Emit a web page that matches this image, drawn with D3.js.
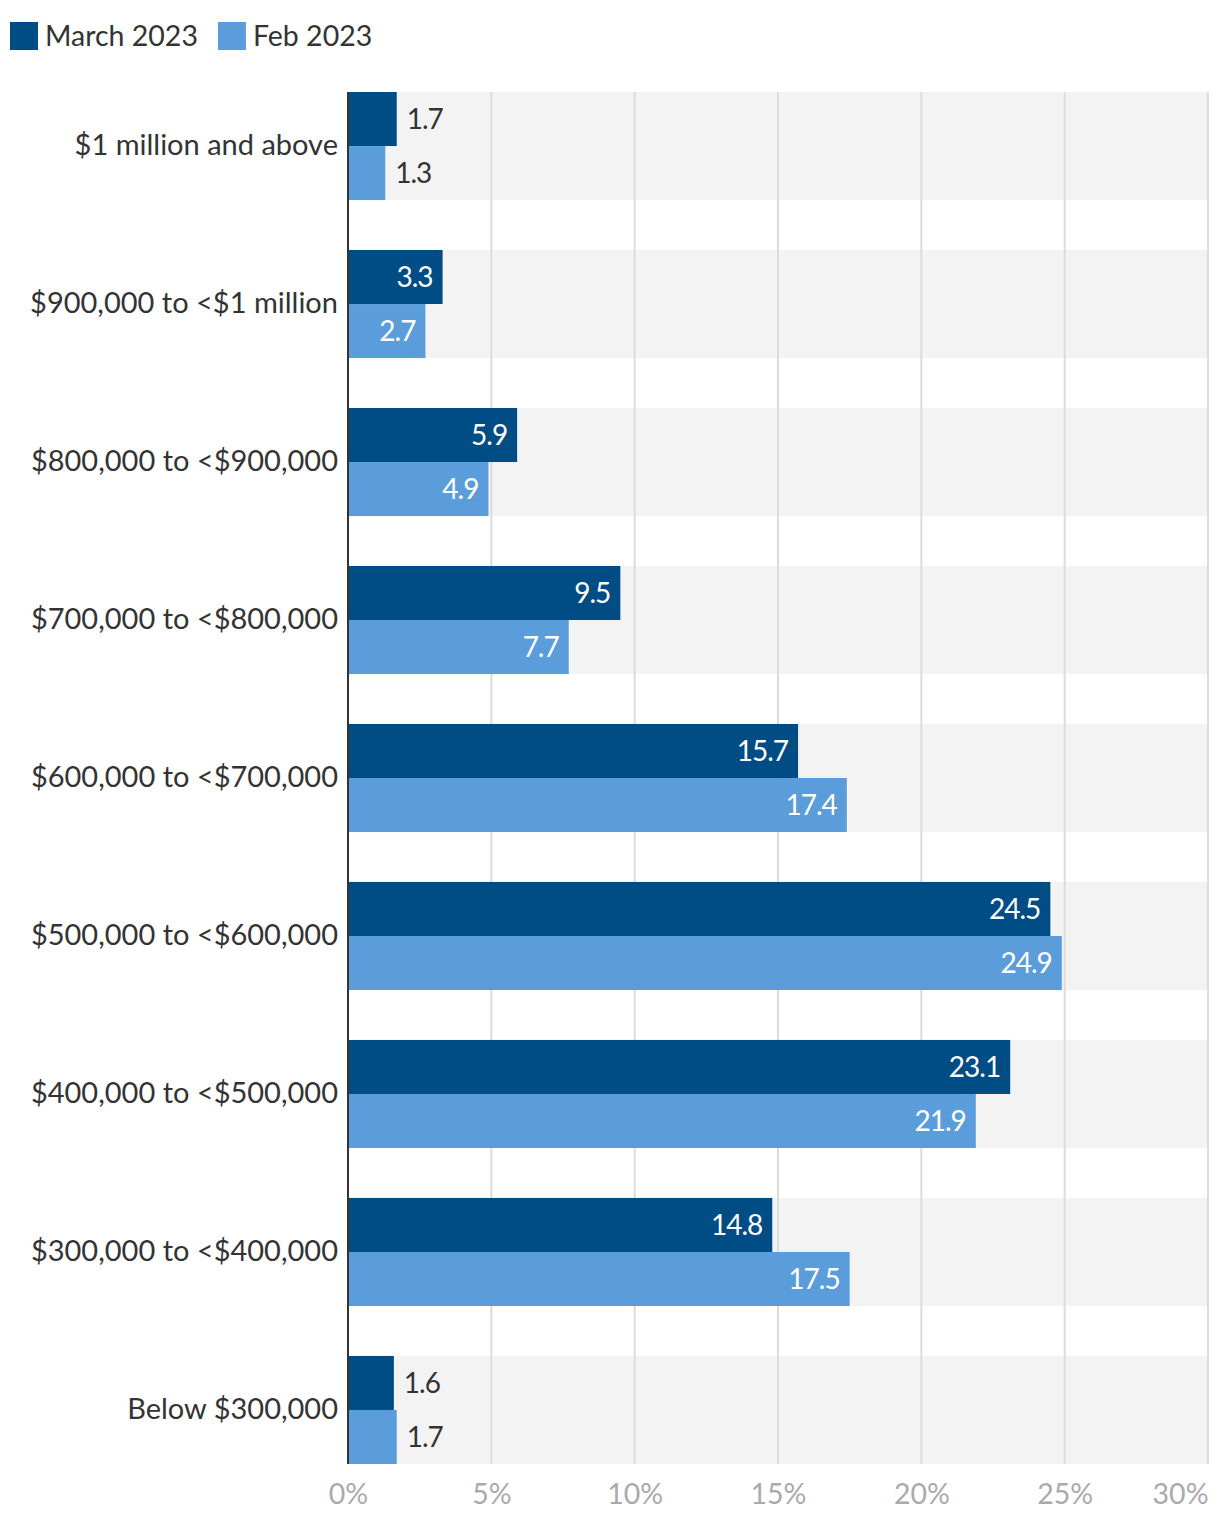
<!DOCTYPE html>
<html>
<head>
<meta charset="utf-8">
<script src="https://cdn.jsdelivr.net/npm/d3@7"></script>
<style>
  body { margin: 0; background: #fff; }
  svg text { font-family: Lato, "Open Sans", sans-serif; }
</style>
</head>
<body>
<div id="chart"></div>
<script>
const categories = [
  "$1 million and above",
  "$900,000 to <$1 million",
  "$800,000 to <$900,000",
  "$700,000 to <$800,000",
  "$600,000 to <$700,000",
  "$500,000 to <$600,000",
  "$400,000 to <$500,000",
  "$300,000 to <$400,000",
  "Below $300,000"
];
const seriesNames = ["March 2023", "Feb 2023"];
const march2023 = [1.7, 3.3, 5.9, 9.5, 15.7, 24.5, 23.1, 14.8, 1.6];
const feb2023 = [1.3, 2.7, 4.9, 7.7, 17.4, 24.9, 21.9, 17.5, 1.7];
const xTicks = [0, 5, 10, 15, 20, 25, 30];
const colors = ["#004c84", "#5b9ddb"];

const FONT = "Lato, 'Open Sans', sans-serif";
const W = 1220, H = 1518;
const margin = { top: 92, right: 12, bottom: 54, left: 348 };
const innerW = W - margin.left - margin.right;
const innerH = H - margin.top - margin.bottom;

const svg = d3.select("#chart").append("svg")
  .attr("width", W)
  .attr("height", H);

// legend
const legend = svg.append("g").attr("transform", "translate(10,22)");
let lx = 0;
seriesNames.forEach((name, i) => {
  const g = legend.append("g").attr("transform", "translate(" + lx + ",0)");
  g.append("rect").attr("width", 28).attr("height", 28).attr("fill", colors[i]);
  const t = g.append("text")
    .attr("x", 35).attr("y", 14).attr("dy", "0.35em")
    .attr("font-size", 28.5).attr("fill", "#333")
    .text(name);
  lx += 35 + t.node().getComputedTextLength() + 20;
});

const chart = svg.append("g")
  .attr("transform", "translate(" + margin.left + "," + margin.top + ")");

const x = d3.scaleLinear().domain([0, 30]).range([0, innerW]);
const y = d3.scaleBand().domain(categories).range([0, innerH]).paddingInner(0.316).paddingOuter(0);
const ySub = d3.scaleBand().domain(seriesNames).range([0, y.bandwidth()]);

// band backgrounds
chart.selectAll(".band")
  .data(categories)
  .enter().append("rect")
    .attr("class", "band")
    .attr("x", 0)
    .attr("y", d => y(d))
    .attr("width", innerW)
    .attr("height", y.bandwidth())
    .attr("fill", "#f3f3f3");

// grid
chart.selectAll(".grid")
  .data(xTicks.slice(1))
  .enter().append("line")
    .attr("class", "grid")
    .attr("x1", d => x(d)).attr("x2", d => x(d))
    .attr("y1", 0).attr("y2", innerH)
    .attr("stroke", "#dcdcdc")
    .attr("stroke-width", 2);

// x axis
const xAxis = chart.append("g")
  .attr("transform", "translate(0," + innerH + ")")
  .call(d3.axisBottom(x).tickValues(xTicks).tickFormat(d => d + "%").tickSize(0).tickPadding(20));
xAxis.select(".domain").remove();
xAxis.selectAll("text")
  .attr("font-size", 28.5)
  .attr("fill", "#aaa")
  .style("font-family", FONT);
// last label pulled inside the chart
xAxis.selectAll(".tick")
  .filter(d => d === xTicks[xTicks.length - 1])
  .select("text")
  .attr("text-anchor", "end");

// y axis
const yAxis = chart.append("g")
  .call(d3.axisLeft(y).tickSize(0).tickPadding(10));
yAxis.select(".domain").remove();
yAxis.selectAll("text")
  .attr("font-size", 29)
  .attr("fill", "#333")
  .style("font-family", FONT);

// bars
const rows = categories.map((c, i) => ({
  cat: c,
  vals: [
    { s: seriesNames[0], v: march2023[i], c: colors[0] },
    { s: seriesNames[1], v: feb2023[i], c: colors[1] }
  ]
}));

const groups = chart.selectAll(".row")
  .data(rows)
  .enter().append("g")
    .attr("class", "row")
    .attr("transform", d => "translate(0," + y(d.cat) + ")");

const bars = groups.selectAll(".bar")
  .data(d => d.vals)
  .enter();

bars.append("rect")
  .attr("class", "bar")
  .attr("x", 0)
  .attr("y", d => ySub(d.s))
  .attr("width", d => x(d.v))
  .attr("height", ySub.bandwidth())
  .attr("fill", d => d.c);

bars.append("text")
  .attr("x", d => d.v >= 2.5 ? x(d.v) - 10 : x(d.v) + 10)
  .attr("y", d => ySub(d.s) + ySub.bandwidth() / 2)
  .attr("dy", "0.35em")
  .attr("text-anchor", d => d.v >= 2.5 ? "end" : "start")
  .attr("font-size", 28)
  .attr("letter-spacing", -1)
  .attr("fill", d => d.v >= 2.5 ? "#fff" : "#333")
  .text(d => d.v.toFixed(1));

// left axis line
chart.append("line")
  .attr("x1", 0).attr("x2", 0)
  .attr("y1", 0).attr("y2", innerH)
  .attr("stroke", "#333")
  .attr("stroke-width", 2);
</script>
</body>
</html>
